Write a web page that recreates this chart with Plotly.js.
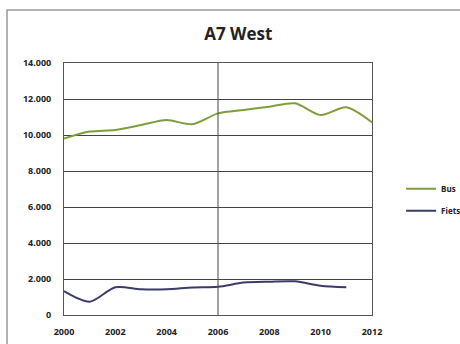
<!DOCTYPE html>
<html><head><meta charset="utf-8">
<script src="https://cdn.plot.ly/plotly-3.0.1.min.js"></script>
<style>html,body{margin:0;padding:0;background:#fff}#c{width:460px;height:344px}</style>
</head><body><div id="c"></div>
<script>
const years = [2000,2001,2002,2003,2004,2005,2006,2007,2008,2009,2010,2011,2012];
const bus = [9800,10190,10280,10550,10830,10600,11200,11390,11570,11760,11110,11540,10700];
const fietsYears = [2000,2001,2002,2003,2004,2005,2006,2007,2008,2009,2010,2011];
const fiets = [1330,740,1540,1430,1430,1530,1570,1800,1850,1870,1630,1540];
const xTicks = [2000,2002,2004,2006,2008,2010,2012];
const yTicks = [0,2000,4000,6000,8000,10000,12000,14000];

const traces = [
  {x: years, y: bus, name: 'Bus', mode: 'lines', legend: 'legend', line: {color: '#7f9d3c', width: 2, shape: 'spline', smoothing: 0.8}},
  {x: fietsYears, y: fiets, name: 'Fiets', mode: 'lines', legend: 'legend2', line: {color: '#3b3b6b', width: 2, shape: 'spline', smoothing: 0.8}}
];
const legBase = {xref: 'container', yref: 'container', xanchor: 'left', yanchor: 'middle',
  font: {size: 8, color: '#222', family: 'Open Sans, sans-serif', weight: 'bold'}, bgcolor: 'rgba(0,0,0,0)', itemwidth: 30};
const layout = {
  width: 460, height: 344,
  margin: {l: 64, r: 88, t: 63, b: 29},
  paper_bgcolor: '#fff', plot_bgcolor: '#fff',
  separators: ',.',
  showlegend: true,
  title: {text: '<b>A7 West</b>', x: 0.518, xanchor: 'center', y: 0.9, yanchor: 'middle', font: {family: 'Open Sans, sans-serif', size: 17, color: '#222'}},
  font: {family: 'Open Sans, sans-serif', size: 9, color: '#222'},
  xaxis: {range: [2000, 2012], tickvals: xTicks, ticktext: xTicks.map(String), showgrid: false, zeroline: false,
          showline: true, linecolor: '#555', linewidth: 1, mirror: true, ticks: '', ticklabelstandoff: 8,
          tickfont: {size: 9, color: '#222', weight: 'bold'}},
  yaxis: {range: [0, 14000], tickvals: yTicks, tickformat: ',d', showgrid: true, gridcolor: '#444', gridwidth: 1,
          zeroline: false, showline: true, linecolor: '#555', linewidth: 1, mirror: true, ticks: '', ticklabelstandoff: 10,
          tickfont: {size: 9, color: '#222', weight: 'bold'}},
  legend: Object.assign({x: 0.872, y: 0.451}, legBase),
  legend2: Object.assign({x: 0.872, y: 0.387}, legBase),
  shapes: [
    {type: 'line', xref: 'x', yref: 'paper', x0: 2006, x1: 2006, y0: 0, y1: 1, line: {color: '#444', width: 1}},
    {type: 'rect', xref: 'paper', yref: 'paper', x0: -0.185, x1: 1.45, y0: -0.25, y1: 1.21, line: {color: '#999', width: 1.5}}
  ]
};
Plotly.newPlot('c', traces, layout, {staticPlot: true});
</script></body></html>
